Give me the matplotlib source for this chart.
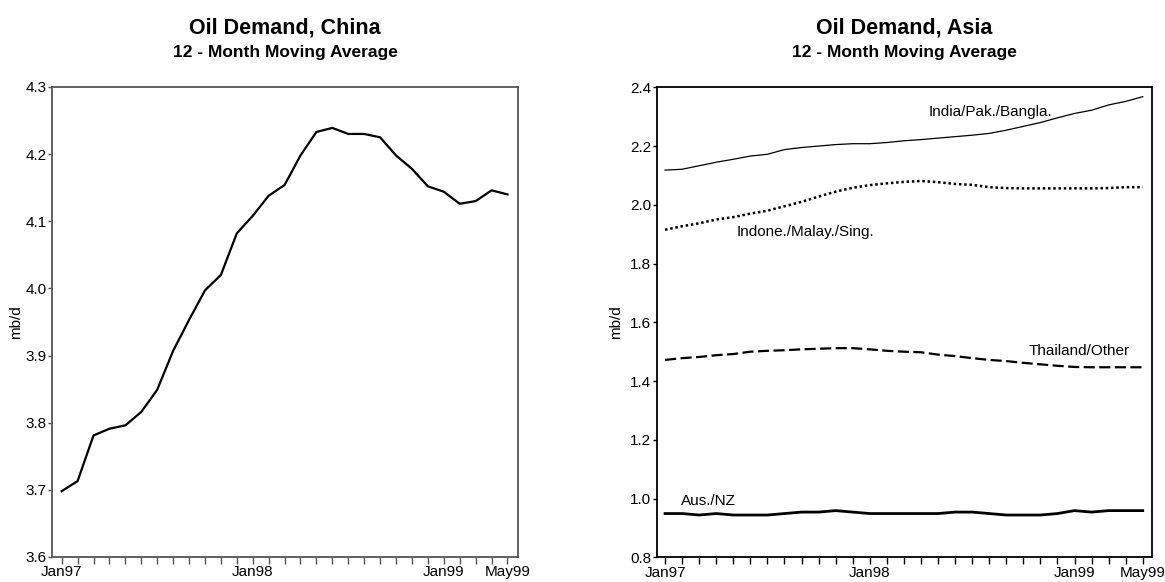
import matplotlib.pyplot as plt
import numpy as np

plt.rcParams['font.family'] = ['Liberation Sans', 'DejaVu Sans']

# months Jan97 .. May99
months = ['Jan97', 'Feb97', 'Mar97', 'Apr97', 'May97', 'Jun97', 'Jul97', 'Aug97', 'Sep97', 'Oct97', 'Nov97', 'Dec97',
          'Jan98', 'Feb98', 'Mar98', 'Apr98', 'May98', 'Jun98', 'Jul98', 'Aug98', 'Sep98', 'Oct98', 'Nov98', 'Dec98',
          'Jan99', 'Feb99', 'Mar99', 'Apr99', 'May99']
tick_labels = ['Jan97', 'Jan98', 'Jan99', 'May99']

china = [3.698, 3.713, 3.781, 3.791, 3.796, 3.816, 3.849, 3.907, 3.953, 3.997, 4.020, 4.082,
         4.108, 4.138, 4.154, 4.198, 4.233, 4.239, 4.230, 4.230, 4.225, 4.198, 4.178, 4.152,
         4.144, 4.126, 4.130, 4.146, 4.140]

india = [2.118, 2.121, 2.133, 2.145, 2.155, 2.166, 2.172, 2.188, 2.195, 2.200, 2.205, 2.208,
         2.208, 2.212, 2.218, 2.222, 2.227, 2.232, 2.237, 2.243, 2.254, 2.267, 2.280, 2.296,
         2.311, 2.322, 2.340, 2.352, 2.368]
indone = [1.915, 1.927, 1.937, 1.950, 1.958, 1.970, 1.980, 1.995, 2.010, 2.028, 2.045, 2.058,
          2.067, 2.073, 2.078, 2.081, 2.077, 2.071, 2.068, 2.060, 2.057, 2.056, 2.056, 2.056,
          2.056, 2.056, 2.057, 2.060, 2.060]
thailand = [1.472, 1.478, 1.482, 1.488, 1.492, 1.500, 1.503, 1.505, 1.508, 1.510, 1.512, 1.512,
            1.508, 1.503, 1.500, 1.498, 1.490, 1.485, 1.478, 1.472, 1.468, 1.462, 1.457, 1.452,
            1.448, 1.447, 1.447, 1.447, 1.447]
ausnz = [0.949, 0.949, 0.944, 0.949, 0.944, 0.944, 0.944, 0.949, 0.954, 0.954, 0.959, 0.954,
         0.949, 0.949, 0.949, 0.949, 0.949, 0.954, 0.954, 0.949, 0.944, 0.944, 0.944, 0.949,
         0.959, 0.954, 0.959, 0.959, 0.959]

x = np.arange(len(months))
tick_pos = [months.index(t) for t in tick_labels]

fig = plt.figure(figsize=(11.65, 5.82), dpi=100, facecolor='white')
ax1 = fig.add_axes([0.0446, 0.043, 0.4003, 0.8076])
ax2 = fig.add_axes([0.5637, 0.0424, 0.4254, 0.8076])

FS = 11


def style_axis(ax, spine_col):
    for s in ax.spines.values():
        s.set_color(spine_col)
        s.set_linewidth(1.3)
    ax.set_xticks(x, minor=True)
    ax.set_xticks(tick_pos)
    ax.set_xticklabels(tick_labels)
    ax.tick_params(axis='x', which='both', direction='out', length=5, width=1, color=spine_col,
                   pad=1, labelsize=FS)
    ax.tick_params(axis='y', direction='out', length=3, width=1, color=spine_col, pad=1, labelsize=FS)
    ax.set_ylabel('mb/d', fontsize=FS)


# --- left: China
ax1.plot(x, china, color='black', lw=1.6)
ax1.set_xlim(-0.61, 28.68)
ax1.set_ylim(3.6, 4.3)
ax1.set_yticks(np.arange(3.6, 4.31, 0.1))
ax1.yaxis.set_major_formatter(plt.FormatStrFormatter('%.1f'))
style_axis(ax1, '#555555')
ax1.yaxis.set_label_coords(-0.062, 0.5)

# --- right: Asia
ax2.plot(x, india, color='black', lw=0.9)
ax2.plot(x, indone, color='black', lw=1.8, linestyle=(0, (1, 1.1)))
ax2.plot(x, thailand, color='black', lw=1.6, linestyle=(0, (5, 2)))
ax2.plot(x, ausnz, color='black', lw=2.0)
ax2.set_xlim(-0.49, 28.56)
ax2.set_ylim(0.8, 2.4)
ax2.set_yticks(np.arange(0.8, 2.41, 0.2))
ax2.yaxis.set_major_formatter(plt.FormatStrFormatter('%.1f'))
style_axis(ax2, 'black')
ax2.yaxis.set_label_coords(-0.068, 0.5)

ax2.text(22.7, 2.316, 'India/Pak./Bangla.', ha='right', va='center', fontsize=FS)
ax2.text(4.2, 1.907, 'Indone./Malay./Sing.', ha='left', va='center', fontsize=FS)
ax2.text(21.3, 1.502, 'Thailand/Other', ha='left', va='center', fontsize=FS)
ax2.text(0.94, 0.991, 'Aus./NZ', ha='left', va='center', fontsize=FS)

# titles
for xc, name in [(0.2446, 'Oil Demand, China'), (0.7764, 'Oil Demand, Asia')]:
    fig.text(xc, 0.943, name, ha='center', va='baseline', fontsize=15.5, fontweight='bold')
    fig.text(xc, 0.902, '12 - Month Moving Average', ha='center', va='baseline', fontsize=12.5,
             fontweight='bold')

plt.savefig('out.png', dpi=100, facecolor='white')
